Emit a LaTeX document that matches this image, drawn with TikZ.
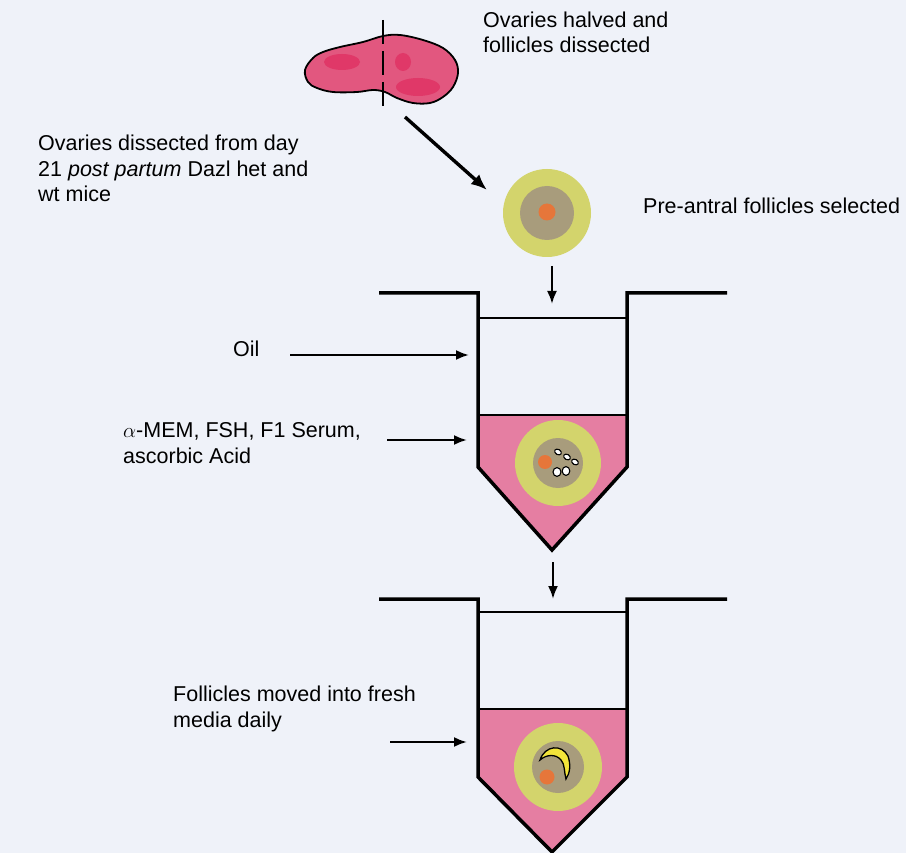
\documentclass[tikz,border=0pt]{standalone}
\usepackage{fontspec}
\setmainfont{Liberation Sans}
\usepackage{xcolor}
\usetikzlibrary{arrows.meta}

\definecolor{paper}{HTML}{EFF2F9}
\definecolor{ovarypink}{HTML}{E2577F}
\definecolor{spotred}{HTML}{E03868}
\definecolor{mediapink}{HTML}{E57EA2}
\definecolor{granyellow}{HTML}{D3D46C}
\definecolor{ooctaupe}{HTML}{A89C7C}
\definecolor{nucorange}{HTML}{E6763A}
\definecolor{antrumyellow}{HTML}{F2E43A}

\begin{document}
\begin{tikzpicture}[x=1pt,y=-1pt,
  lbl/.style={font=\fontsize{21.5}{25.5}\selectfont,align=left,
              anchor=base west,inner sep=0pt},
  arr/.style={-{Latex[length=13pt,width=10pt]},line width=2.2pt},
  bigarr/.style={-{Latex[length=16pt,width=13pt]},line width=3.4pt},
  wall/.style={line width=3.5pt,line join=miter},
  level/.style={line width=1.6pt},
  theca/.style={circle,fill=granyellow,inner sep=0pt},
  oocyte/.style={circle,fill=ooctaupe,inner sep=0pt},
  nucleus/.style={circle,fill=nucorange,inner sep=0pt},
  granule/.style={draw,fill=white,line width=1.1pt}
]
\fill[paper] (0,0) rectangle (906,853);
\useasboundingbox (0,0) rectangle (906,853);

%% Ovary, cut in half
\filldraw[fill=ovarypink,draw=black,line width=1.8pt]
  plot[smooth cycle,tension=0.6] coordinates {
    (305,70) (313,58) (323,52) (340,47) (363,42) (383,36) (400,35)
    (423,40) (443,48) (455,60) (458,73) (453,87) (443,97) (430,103)
    (413,103) (397,98) (385,92) (373,90) (357,92) (333,92) (317,88)
    (308,82)};
\fill[spotred] (342,62) ellipse [x radius=18pt,y radius=8pt];
\fill[spotred] (403,62) ellipse [x radius=8pt,y radius=9pt];
\fill[spotred] (418,87) ellipse [x radius=22pt,y radius=9pt];
\draw[line width=1.3pt,dash pattern=on 24pt off 7pt] (383,20) -- (383,112);

%% Labels (base = last line)
\node[lbl] (halved) at (483,53) {Ovaries halved and\\follicles dissected};
\node[lbl] (source) at (38,202)
  {Ovaries dissected from day\\21 \textit{post partum} Dazl het and\\wt mice};
\node[lbl] (select) at (643,214) {Pre-antral follicles selected};
\node[lbl] (oil) at (233,357) {Oil};
\node[lbl] (media) at (123,463) {$\alpha$-MEM, FSH, F1 Serum,\\ascorbic Acid};
\node[lbl] (fresh) at (173,727) {Follicles moved into fresh\\media daily};

%% Pre-antral follicle
\node[theca,minimum size=88pt] (fol1) at (547,213) {};
\node[oocyte,minimum size=54pt] (ooc1) at (547,213) {};
\node[nucleus,minimum size=17pt] (nuc1) at (547,212) {};

%% First well
\fill[mediapink] (478,415) -- (627,415) -- (627,467) -- (552,550) -- (478,467) -- cycle;
\draw[level] (478,318) -- (627,318);
\draw[level] (478,415) -- (627,415);
\node[theca,minimum size=86pt] (fol2) at (558,463) {};
\node[oocyte,minimum size=50pt] (ooc2) at (558,463) {};
\node[nucleus,minimum size=14pt] (nuc2) at (545,462) {};
\draw[granule,rotate around={-30:(558,452)}] (558,452) ellipse [x radius=3.6pt,y radius=2.6pt];
\draw[granule,rotate around={-30:(567,457)}] (567,457) ellipse [x radius=3.6pt,y radius=2.6pt];
\draw[granule,rotate around={-30:(575,462)}] (575,462) ellipse [x radius=3.6pt,y radius=2.6pt];
\draw[granule] (557,472) ellipse [x radius=4pt,y radius=4.4pt];
\draw[granule] (566,471) ellipse [x radius=3.8pt,y radius=4.4pt];
\draw[wall] (379,293) -- (478,293) -- (478,467) -- (552,550) -- (627,467) -- (627,293) -- (727,293);

%% Second well
\fill[mediapink] (478,709) -- (627,709) -- (627,777) -- (552,852) -- (478,777) -- cycle;
\draw[level] (478,612) -- (627,612);
\draw[level] (478,709) -- (627,709);
\node[theca,minimum size=88pt] (fol3) at (558,767) {};
\node[oocyte,minimum size=52pt] (ooc3) at (558,767) {};
\node[nucleus,minimum size=15pt] (nuc3) at (547,777) {};
\filldraw[fill=antrumyellow,line width=1.3pt]
  (540,760) .. controls (545,745) and (562,744) .. (568,756)
  .. controls (571,765) and (570,773) .. (566,779)
  .. controls (564,772) and (565,764) .. (561,760)
  .. controls (556,754) and (547,754) .. (540,760) -- cycle;
\draw[wall] (379,599) -- (478,599) -- (478,777) -- (552,852) -- (627,777) -- (627,599) -- (727,599);

%% Arrow ends
\coordinate (cutend) at (405,117);
\coordinate (toselect) at (487,190);
\coordinate (drop1) at (552,266);
\coordinate (into1) at (552,304);
\coordinate (drop2) at (553,562);
\coordinate (into2) at (553,599);
\coordinate (oilfrom) at (290,355);
\coordinate (oilto) at (469,355);
\coordinate (mediafrom) at (387,440);
\coordinate (mediato) at (467,440);
\coordinate (freshfrom) at (390,742);
\coordinate (freshto) at (467,742);

%% Arrows
\draw[bigarr] (cutend) -- (toselect);
\draw[arr] (drop1) -- (into1);
\draw[arr] (drop2) -- (into2);
\draw[arr] (oilfrom) -- (oilto);
\draw[arr] (mediafrom) -- (mediato);
\draw[arr] (freshfrom) -- (freshto);
\end{tikzpicture}
\end{document}
